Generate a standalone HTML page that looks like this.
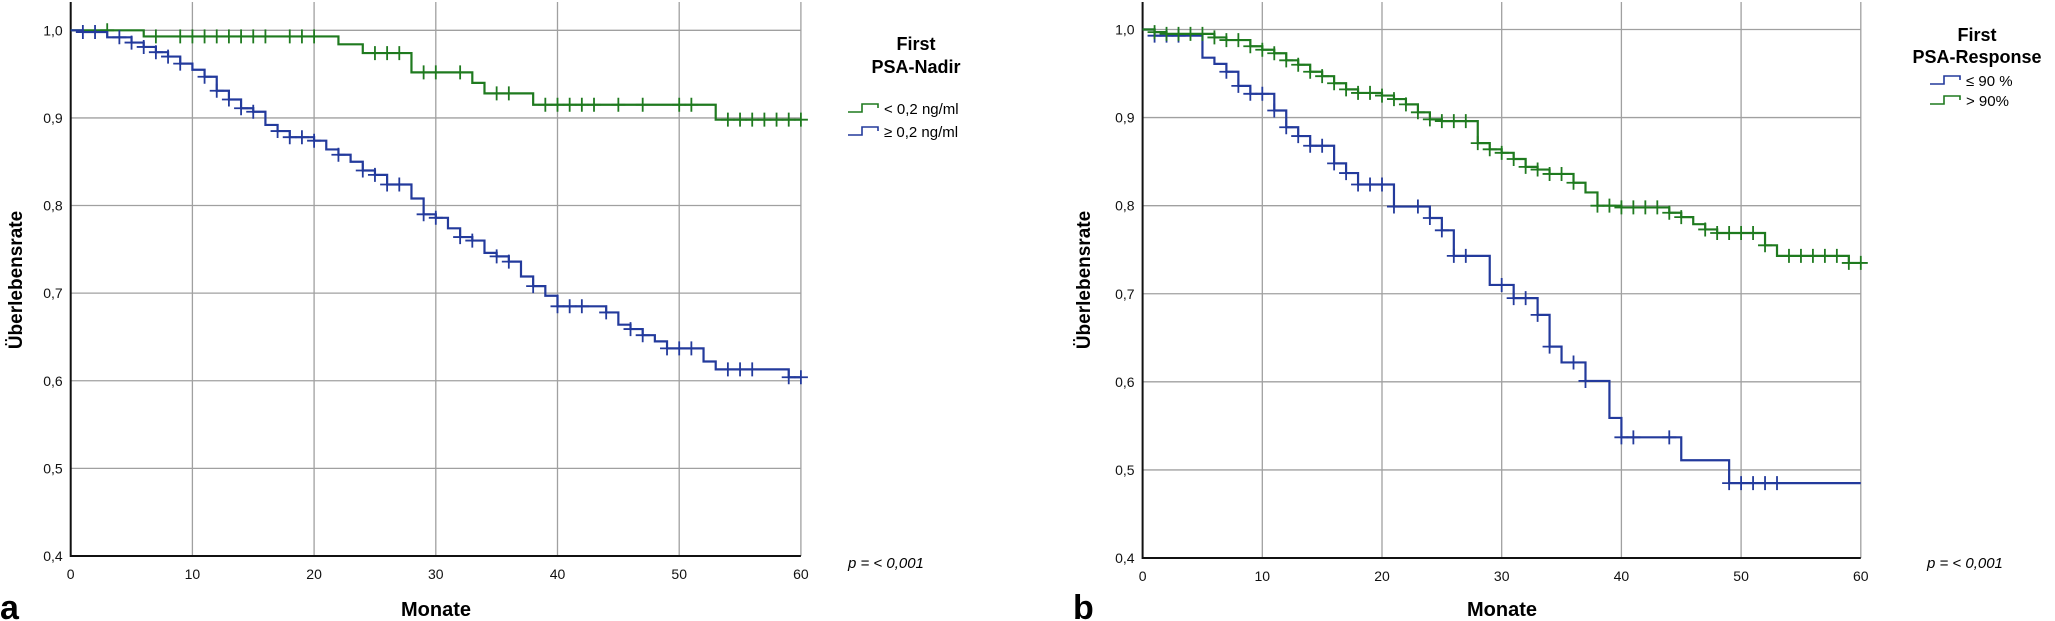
<!DOCTYPE html>
<html><head><meta charset="utf-8">
<style>
html,body{margin:0;padding:0;background:#fff;}
svg{display:block;font-family:"Liberation Sans","DejaVu Sans",sans-serif;}
</style></head>
<body>
<svg id="chart" width="2055" height="621" viewBox="0 0 2055 621" xmlns="http://www.w3.org/2000/svg"></svg>
<script>
// ---- Panel a: First PSA-Nadir ----
const aGreenTimes = [0,6,22,24,28,33,34,38,53];
const aGreenSurv  = [1.0,0.993,0.984,0.974,0.952,0.94,0.928,0.915,0.898];
const aGreenCens  = [3,7,9,10,11,12,13,14,15,16,18,19,20,25,26,27,29,30,32,35,36,39,40,41,42,43,45,47,50,51,54,55,56,57,58,59,60];
const aBlueTimes = [0,1,3,5,6,7,8,9,10,11,12,13,14,15,16,17,18,20,21,22,23,24,25,26,28,29,30,31,32,33,34,35,36,37,38,39,40,44,45,46,47,48,49,52,53,59];
const aBlueSurv  = [1.0,0.998,0.992,0.986,0.981,0.975,0.970,0.962,0.955,0.947,0.931,0.921,0.911,0.907,0.892,0.885,0.878,0.874,0.864,0.858,0.850,0.840,0.835,0.824,0.808,0.790,0.786,0.774,0.764,0.760,0.746,0.742,0.736,0.719,0.708,0.697,0.685,0.678,0.664,0.659,0.652,0.645,0.637,0.622,0.613,0.604];
const aBlueCens  = [1,2,4,5,6,7,8,9,11,12,13,14,15,17,18,19,20,22,24,25,26,27,29,30,32,33,35,36,38,40,41,42,44,46,47,49,50,51,54,55,56,59,60];
// ---- Panel b: First PSA-Response ----
const bBlueTimes = [0,1,5,6,7,8,9,11,12,13,14,16,17,18,21,24,25,26,29,31,33,34,35,37,39,40,45,49];
const bBlueSurv  = [1.0,0.993,0.968,0.961,0.952,0.936,0.927,0.908,0.889,0.879,0.868,0.848,0.837,0.824,0.799,0.786,0.772,0.743,0.710,0.695,0.676,0.640,0.622,0.601,0.559,0.537,0.511,0.485];
const bBlueCens  = [1,2,3,7,8,9,10,11,12,13,14,15,16,17,18,19,20,21,23,24,25,26,27,30,31,32,33,34,36,37,40,41,44,49,50,51,52,53];
const bGreenTimes = [0,1,2,6,7,9,10,11,12,13,14,15,16,17,18,20,21,22,23,24,25,28,29,30,31,32,33,34,36,37,38,40,44,45,46,47,48,52,53,59];
const bGreenSurv  = [1.0,0.997,0.995,0.991,0.988,0.981,0.977,0.973,0.965,0.960,0.952,0.947,0.939,0.932,0.928,0.925,0.921,0.915,0.906,0.898,0.896,0.871,0.864,0.860,0.853,0.844,0.841,0.836,0.826,0.815,0.800,0.798,0.792,0.787,0.779,0.773,0.769,0.755,0.743,0.735];
const bGreenCens  = [1,2,3,4,5,6,7,8,9,10,11,12,13,14,15,16,17,18,19,20,21,22,23,24,25,26,27,28,29,30,31,32,33,34,35,36,38,39,40,41,42,43,44,45,47,48,49,50,51,52,54,55,56,57,58,59,60];
const xTicks = [0,10,20,30,40,50,60];
const yTicks = [0.4,0.5,0.6,0.7,0.8,0.9,1.0];
const yTickLabels = ["0,4","0,5","0,6","0,7","0,8","0,9","1,0"];

const GREEN = "#1f7a1f", BLUE = "#233a9c";
const svg = document.getElementById('chart');
const NS = "http://www.w3.org/2000/svg";
function mk(tag, attrs, parent){const e=document.createElementNS(NS,tag);for(const k in attrs)e.setAttribute(k,attrs[k]);(parent||svg).appendChild(e);return e;}

function panel(id, x0, x60, y1, y04, series){
  const g = mk('g',{});
  
  
  const X = t => x0 + (x60-x0)*t/60;
  const Y = v => y04 - (y04-y1)*(v-0.4)/0.6;
  yTicks.forEach((v,i)=>{
    if(i>0){const l=mk('line',{x1:x0,x2:x60,y1:Y(v),y2:Y(v),stroke:'#a0a0a0','stroke-width':1.3},g);
      
      }
    const t=mk('text',{x:x0-8,y:Y(v)+5,'text-anchor':'end','font-size':14,fill:'#111'},g);
    t.textContent=yTickLabels[i];
    
    
  });
  xTicks.forEach((v)=>{
    if(v>0){const l=mk('line',{x1:X(v),x2:X(v),y1:2,y2:y04,stroke:'#a0a0a0','stroke-width':1.3},g);
      
      }
    const t=mk('text',{x:X(v),y:y04+23,'text-anchor':'middle','font-size':14,fill:'#111'},g);
    t.textContent=String(v);
    
    
  });
  const ax=mk('path',{d:`M${x0},2 V${y04} H${x60}`,fill:'none',stroke:'#111','stroke-width':2},g);
  
  
  series.forEach(s=>{
    const surv=(t)=>{let v=s.surv[0];for(let i=0;i<s.times.length;i++){if(s.times[i]<=t)v=s.surv[i];}return v;};
    let d=`M${X(0)},${Y(s.surv[0])}`;
    for(let i=1;i<s.times.length;i++){d+=` H${X(s.times[i])} V${Y(s.surv[i])}`;}
    d+=` H${X(s.end)}`;
    const p=mk('path',{d,fill:'none',stroke:s.color,'stroke-width':2.2},g);
    
    
    s.cens.forEach(c=>{
      const cx=X(c), cy=Y(surv(c));
      const m=mk('path',{d:`M${cx},${cy-7} V${cy+7} M${cx-7},${cy} H${cx+7}`,stroke:s.color,'stroke-width':1.8,fill:'none'},g);
      
      
    });
  });
}
panel('panel-a',70.7,800.9,30.3,556,[
  {name:'nadir-low',times:aGreenTimes,surv:aGreenSurv,cens:aGreenCens,color:GREEN,end:60},
  {name:'nadir-high',times:aBlueTimes,surv:aBlueSurv,cens:aBlueCens,color:BLUE,end:60}]);
panel('panel-b',1142.6,1860.8,29.5,558,[
  {name:'response-le90',times:bBlueTimes,surv:bBlueSurv,cens:bBlueCens,color:BLUE,end:60},
  {name:'response-gt90',times:bGreenTimes,surv:bGreenSurv,cens:bGreenCens,color:GREEN,end:60}]);
</script>
<script>
function txt(x,y,s,attrs,name){const e=document.createElementNS(NS,'text');e.setAttribute('x',x);e.setAttribute('y',y);for(const k in attrs)e.setAttribute(k,attrs[k]);e.textContent=s;


svg.appendChild(e);return e;}
txt(22,280,'Überlebensrate',{'font-size':19,'font-weight':'bold','text-anchor':'middle',transform:'rotate(-90 22 280)'},'y-axis-title-a');
txt(1090,280,'Überlebensrate',{'font-size':19,'font-weight':'bold','text-anchor':'middle',transform:'rotate(-90 1090 280)'},'y-axis-title-b');
txt(436,616,'Monate',{'font-size':20,'font-weight':'bold','text-anchor':'middle'},'x-axis-title-a');
txt(1502,616,'Monate',{'font-size':20,'font-weight':'bold','text-anchor':'middle'},'x-axis-title-b');
txt(0,619,'a',{'font-size':34,'font-weight':'bold'},'panel-label-a');
txt(1073,619,'b',{'font-size':34,'font-weight':'bold'},'panel-label-b');
txt(916,50,'First',{'font-size':18,'font-weight':'bold','text-anchor':'middle'},'legend-title-a');
txt(916,73,'PSA-Nadir',{'font-size':18,'font-weight':'bold','text-anchor':'middle'},'legend-subtitle-a');
txt(884,114,'< 0,2 ng/ml',{'font-size':15},'legend-label-nadir-low');
txt(884,137,'≥ 0,2 ng/ml',{'font-size':15},'legend-label-nadir-high');
txt(848,568,'p = < 0,001',{'font-size':15,'font-style':'italic'},'p-value-a');
txt(1977,41,'First',{'font-size':18,'font-weight':'bold','text-anchor':'middle'},'legend-title-b');
txt(1977,63,'PSA-Response',{'font-size':18,'font-weight':'bold','text-anchor':'middle'},'legend-subtitle-b');
txt(1966,86,'≤ 90 %',{'font-size':15},'legend-label-le90');
txt(1966,106,'> 90%',{'font-size':15},'legend-label-gt90');
txt(1927,568,'p = < 0,001',{'font-size':15,'font-style':'italic'},'p-value-b');
function sym(x,y,c,name){const e=document.createElementNS(NS,'path');e.setAttribute('d',`M${x},${y} H${x+14} V${y-8} H${x+30} V${y-4}`);e.setAttribute('fill','none');e.setAttribute('stroke',c);e.setAttribute('stroke-width',1.6);


svg.appendChild(e);}
sym(848,112,GREEN,'legend-symbol-nadir-low');
sym(848,135,BLUE,'legend-symbol-nadir-high');
sym(1930,84,BLUE,'legend-symbol-le90');
sym(1930,104,GREEN,'legend-symbol-gt90');
</script>
</body></html>
